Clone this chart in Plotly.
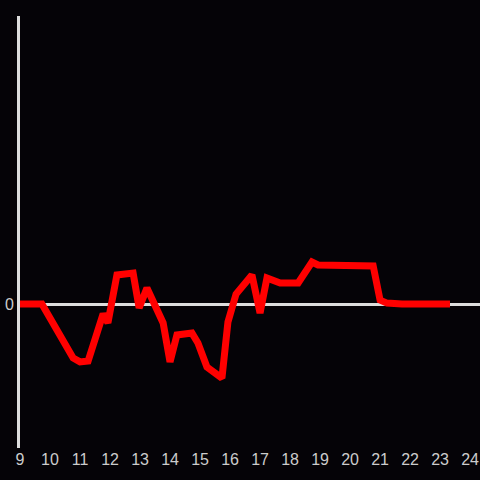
import plotly.graph_objects as go

# hours of day vs value
hours = [9.0, 9.73, 10.77, 11.0, 11.27, 11.77, 11.93, 12.23, 12.77, 12.97, 13.23,
         13.77, 14.0, 14.23, 14.73, 14.93, 15.23, 15.73, 15.93, 16.2, 16.73, 17.0,
         17.23, 17.67, 18.27, 18.73, 18.93, 20.77, 21.0, 21.23, 21.73, 23.33]
values = [0, 0, -1.8, -1.93, -1.9, -0.33, -0.63, 0.97, 1.03, -0.13, 0.53,
          -0.63, -1.93, -1.03, -0.97, -1.3, -2.1, -2.47, -0.6, 0.33, 0.97, -0.3,
          0.87, 0.7, 0.7, 1.4, 1.3, 1.27, 0.13, 0.03, 0, 0]
x_ticks = list(range(9, 25))

fig = go.Figure()
fig.add_trace(go.Scatter(x=hours, y=values, mode="lines",
                         line=dict(color="#ff0000", width=7), showlegend=False))

fig.update_layout(
    width=480, height=480,
    margin=dict(l=20, r=0, t=16, b=32),
    paper_bgcolor="#050307", plot_bgcolor="#050307",
    font=dict(family="Liberation Sans, Arial, sans-serif", size=16, color="#cccccc"),
)
fig.update_xaxes(range=[9, 24.33], tickvals=x_ticks, showgrid=False, automargin=False,
                 zeroline=False, showline=False, ticks="")
fig.update_yaxes(range=[-4.8, 9.6], tickvals=[0], showgrid=False, automargin=False,
                 zeroline=True, zerolinecolor="#dddddd", zerolinewidth=3,
                 showline=True, linecolor="#dddddd", linewidth=3, ticks="")

# drop the default page margin so the figure sits at the window's corner
fig.write_html("out.html", config={"displayModeBar": False},
               post_script="document.body.style.margin='0';")
